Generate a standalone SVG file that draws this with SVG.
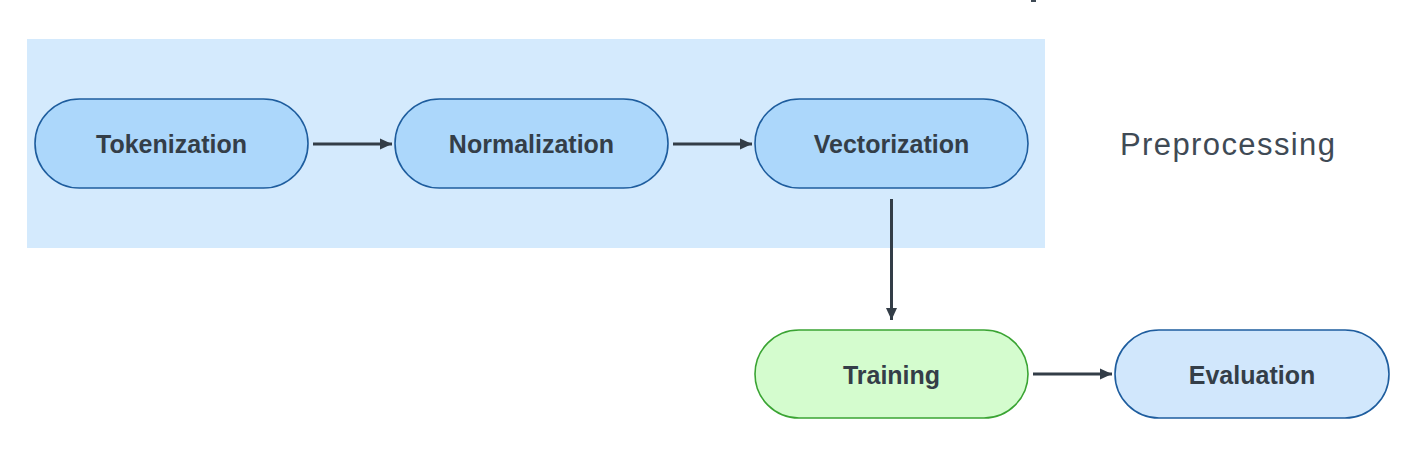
<svg xmlns="http://www.w3.org/2000/svg" width="1410" height="468" viewBox="0 0 1410 468">
<defs>
<marker id="ah" markerWidth="12" markerHeight="12" refX="12" refY="6" orient="auto" markerUnits="userSpaceOnUse">
<path d="M0,0.5 L12,6 L0,11.5 Z" fill="#333d47"/>
</marker>
<style>
.node rect{stroke-width:1.6}
.blue rect{fill:#acd7fb;stroke:#1e5d9e}
.eval rect{fill:#d1e7fc;stroke:#1e5d9e}
.green rect{fill:#d4fcce;stroke:#3aa433}
.lbl{font-family:"Liberation Sans",Arial,sans-serif;font-size:25px;font-weight:bold;fill:#343e48;text-anchor:middle}
.edge{stroke:#333d47;stroke-width:3;fill:none;marker-end:url(#ah)}
</style>
</defs>
<rect width="1410" height="468" fill="#ffffff"/>
<rect x="1031" y="0" width="5" height="2" fill="#3f4a55"/>
<g id="preprocessing">
<rect x="27" y="39" width="1018" height="209" fill="#d4eafd"/>
<text x="1120" y="155" font-family="Liberation Sans,Arial,sans-serif" font-size="31" letter-spacing="1.4" fill="#3f4a55">Preprocessing</text>
</g>
<g id="tokenization" class="node blue">
<rect x="35" y="99" width="273" height="89" rx="44.5"/>
<text class="lbl" x="171.5" y="153">Tokenization</text>
</g>
<g id="normalization" class="node blue">
<rect x="395" y="99" width="273" height="89" rx="44.5"/>
<text class="lbl" x="531.5" y="153">Normalization</text>
</g>
<g id="vectorization" class="node blue">
<rect x="755" y="99" width="273" height="89" rx="44.5"/>
<text class="lbl" x="891.5" y="153">Vectorization</text>
</g>
<g id="training" class="node green">
<rect x="755" y="330" width="273" height="88" rx="44"/>
<text class="lbl" x="891.5" y="384">Training</text>
</g>
<g id="evaluation" class="node eval">
<rect x="1115" y="330" width="274" height="88" rx="44"/>
<text class="lbl" x="1252" y="384">Evaluation</text>
</g>
<g id="connectors">
<line class="edge" x1="313" y1="144" x2="392" y2="144"/>
<line class="edge" x1="673" y1="144" x2="752" y2="144"/>
<line class="edge" x1="891.5" y1="199" x2="891.5" y2="320"/>
<line class="edge" x1="1033" y1="374" x2="1112" y2="374"/>
</g>
</svg>
